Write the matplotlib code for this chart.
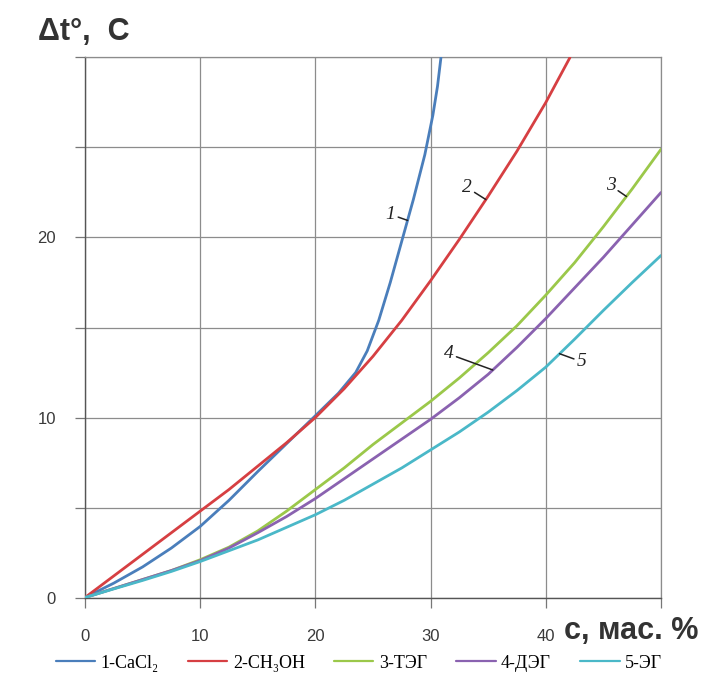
import numpy as np
import matplotlib.pyplot as plt

# Values (c, mass % -> delta t, deg C)
c_cacl2 = [0, 2.5, 5, 7.5, 10, 12.5, 15, 17.5, 20, 22, 23.5, 24.5, 25.5, 26.5, 27.5, 28.5, 29.5, 30.2, 30.6, 30.9]
t_cacl2 = [0, 0.8, 1.7, 2.75, 3.95, 5.4, 7.0, 8.55, 10.1, 11.35, 12.5, 13.7, 15.4, 17.5, 19.8, 22.1, 24.6, 26.8, 28.4, 30.0]

c_meoh = [0, 2.5, 5, 7.5, 10, 12.5, 15, 17.5, 20, 22.5, 25, 27.5, 30, 32.5, 35, 37.5, 40, 42.1]
t_meoh = [0, 1.2, 2.4, 3.6, 4.8, 6.0, 7.3, 8.6, 10.0, 11.6, 13.4, 15.4, 17.6, 19.9, 22.3, 24.8, 27.5, 30.0]

c_gly = [0, 2.5, 5, 7.5, 10, 12.5, 15, 17.5, 20, 22.5, 25, 27.5, 30, 32.5, 35, 37.5, 40, 42.5, 45, 47.5, 50]
t_teg = [0, 0.5, 1.0, 1.5, 2.1, 2.8, 3.7, 4.8, 6.0, 7.2, 8.5, 9.7, 10.9, 12.2, 13.6, 15.1, 16.8, 18.6, 20.6, 22.7, 24.9]
t_deg = [0, 0.5, 1.0, 1.5, 2.05, 2.75, 3.6, 4.5, 5.5, 6.6, 7.7, 8.8, 9.9, 11.1, 12.4, 13.9, 15.5, 17.2, 18.9, 20.7, 22.5]
t_eg = [0, 0.48, 0.95, 1.45, 2.0, 2.6, 3.2, 3.9, 4.6, 5.4, 6.3, 7.2, 8.2, 9.2, 10.3, 11.5, 12.8, 14.35, 15.95, 17.5, 19.0]

labels = ['1-CaCl₂', '2-CH₃OH', '3-ТЭГ', '4-ДЭГ', '5-ЭГ']
colors = ['#4a7ebb', '#d63f42', '#9bc84a', '#8a62b0', '#4ab8c8']

fig = plt.figure(figsize=(7.22, 6.9), dpi=100)
ax = fig.add_axes([0.1177, 0.134, 0.7978, 0.7827])

series = [(c_cacl2, t_cacl2), (c_meoh, t_meoh), (c_gly, t_teg), (c_gly, t_deg), (c_gly, t_eg)]
lines = []
for (xs, ys), lab, col in zip(series, labels, colors):
    ln, = ax.plot(xs, ys, color=col, lw=2.0, label=lab, solid_capstyle='round',
                  solid_joinstyle='round', zorder=3)
    lines.append(ln)

ax.set_xlim(0, 50)
ax.set_ylim(0, 30)
ax.set_xticks(np.arange(0, 51, 10))
ax.set_xticklabels(['0', '10', '20', '30', '40', ''])
ax.set_yticks(np.arange(0, 31, 5))
ax.set_yticklabels(['0', '', '10', '', '20', '', ''])
ax.grid(True, color='#8c8c8c', lw=0.9)
ax.set_axisbelow(True)
for side in ['top', 'right']:
    ax.spines[side].set_color('#8c8c8c')
    ax.spines[side].set_linewidth(0.9)
for side in ['left', 'bottom']:
    ax.spines[side].set_color('#555555')
    ax.spines[side].set_linewidth(1.0)
ax.tick_params(direction='out', length=7, width=0.9, color='#777777',
               labelsize=12, labelcolor='#3a3a3a')
ax.tick_params(axis='x', pad=16)
ax.tick_params(axis='y', pad=14)
for lab in ax.get_xticklabels() + ax.get_yticklabels():
    lab.set_family('Liberation Sans')

# axis titles
fig.text(0.052, 0.953, 'Δt°,  C', fontsize=22, fontweight='bold', color='#333333',
         family='Liberation Sans', ha='left', va='center')
fig.text(0.781, 0.085, 'c, мас. %', fontsize=22, fontweight='bold', color='#333333',
         family=['Liberation Sans Narrow', 'Liberation Sans'], ha='left', va='center')

# hand-written curve numbers with short leader strokes (offsets in pixels)
marks = [('1', c_cacl2, t_cacl2, 28.0, (-17, 6)),
         ('2', c_meoh, t_meoh, 34.8, (-19, 12)),
         ('3', c_gly, t_teg, 47.0, (-16, 11)),
         ('4', c_gly, t_deg, 35.4, (-44, 16)),
         ('5', c_gly, t_eg, 41.2, (22, -8))]
for txt, xs, ys, cx, off in marks:
    cy = np.interp(cx, xs, ys)
    ax.annotate(txt, xy=(cx, cy), xytext=off, textcoords='offset pixels', fontsize=14,
                family='Liberation Serif', style='italic', color='#222222',
                ha='center', va='center', zorder=4,
                arrowprops=dict(arrowstyle='-', color='#222222', lw=1.1,
                                shrinkA=0, shrinkB=0))

fig.legend(handles=lines, loc='center', bbox_to_anchor=(0.497, 0.039), ncol=5,
           frameon=False, handlelength=2.2, columnspacing=1.6, handletextpad=0.3,
           prop={'family': ['Liberation Serif', 'DejaVu Serif'], 'size': 13})
for ln in fig.legends[0].get_lines():
    ln.set_linewidth(1.6)

fig.savefig('out.png', dpi=100, facecolor='white')
